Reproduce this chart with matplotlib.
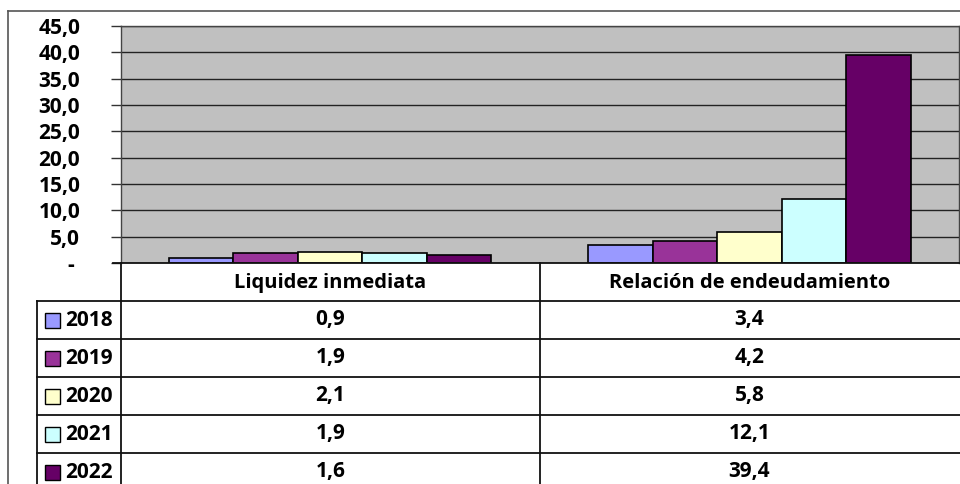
import numpy as np
import matplotlib.pyplot as plt
from matplotlib.ticker import FuncFormatter

categories = ["Liquidez inmediata", "Relación de endeudamiento"]
years = ["2018", "2019", "2020", "2021", "2022"]
values = [
    [0.9, 3.4],
    [1.9, 4.2],
    [2.1, 5.8],
    [1.9, 12.1],
    [1.6, 39.4],
]
colors = ["#9999FF", "#993399", "#FFFFCC", "#CCFFFF", "#660066"]

W, H = 960, 484
plt.rcParams['font.family'] = ['Open Sans', 'DejaVu Sans']
plt.rcParams['font.weight'] = 'bold'
fig = plt.figure(figsize=(W / 100, H / 100), dpi=100)

# pixel layout (Excel-like chart with data table)
x_left, x_right = 120.5, 959
y_top, y_zero = 26, 263
row_h = 38
x_mid = 540
x_leg = 37
fs = 14.5
fs_num = 15

ax = fig.add_axes([x_left / W, 1 - y_zero / H, (x_right - x_left) / W, (y_zero - y_top) / H])
ax.set_facecolor("#C0C0C0")
n = len(years)
w = 1 / (n + 1.5)
x = np.arange(len(categories)) + 0.5
for j in range(n):
    ax.bar(x + (j - (n - 1) / 2) * w, values[j], width=w, color=colors[j],
           edgecolor="black", linewidth=1.2, zorder=3)
ax.set_xlim(0, len(categories))
ax.set_ylim(0, 45)
ax.set_yticks(np.arange(0, 46, 5))
ax.yaxis.set_major_formatter(FuncFormatter(lambda v, p: "- " if v == 0 else f"{v:.1f}".replace(".", ",")))
ax.set_xticks([])
ax.grid(axis="y", color="#222222", linewidth=1.0, zorder=1)
ax.tick_params(axis="y", direction="out", length=7, width=1, color="#333333", pad=22,
               labelsize=fs_num)
for lbl in ax.get_yticklabels():
    lbl.set_fontweight("bold")
for s in ax.spines.values():
    s.set_color("#444444")
    s.set_linewidth(1)
ax.spines["bottom"].set_visible(False)

# overlay in pixel coordinates for border and data table
ov = fig.add_axes([0, 0, 1, 1], zorder=-1)
ov.set_xlim(0, W)
ov.set_ylim(H, 0)
ov.axis("off")
ov2 = fig.add_axes([0, 0, 1, 1])
ov2.set_xlim(0, W)
ov2.set_ylim(H, 0)
ov2.axis("off")
ov2.patch.set_alpha(0)

lc = "#111111"
ov.plot([8, W], [11, 11], color="#555555", lw=1.2)
ov.plot([8, 8], [11, H], color="#555555", lw=1.2)

ov2.plot([113, W], [y_zero, y_zero], color=lc, lw=1.3)
ov2.plot([x_left, x_left], [y_zero, H], color=lc, lw=1.3)
ov2.plot([x_mid, x_mid], [y_zero, H], color=lc, lw=1.3)
ov2.plot([x_leg, x_leg], [y_zero + row_h, H], color=lc, lw=1.3)
for r in range(1, n + 1):
    yy = y_zero + row_h * r
    ov2.plot([x_leg, W], [yy, yy], color=lc, lw=1.3)

col_c = [(x_left + x_mid) / 2, (x_mid + x_right) / 2]
for c, name in enumerate(categories):
    ov2.text(col_c[c], y_zero + row_h / 2 + 1, name, ha="center", va="center",
             fontsize=fs, fontweight="bold")
for j in range(n):
    yc = y_zero + row_h * (j + 1.5)
    ov2.add_patch(plt.Rectangle((45, yc - 7.5), 15, 15, facecolor=colors[j],
                                edgecolor="black", lw=1))
    ov2.text(65, yc, years[j], ha="left", va="center", fontsize=fs_num, fontweight="bold")
    for c in range(len(categories)):
        ov2.text(col_c[c], yc, f"{values[j][c]:.1f}".replace(".", ","), ha="center",
                 va="center", fontsize=fs_num, fontweight="bold")

fig.savefig("out.png", dpi=100)
